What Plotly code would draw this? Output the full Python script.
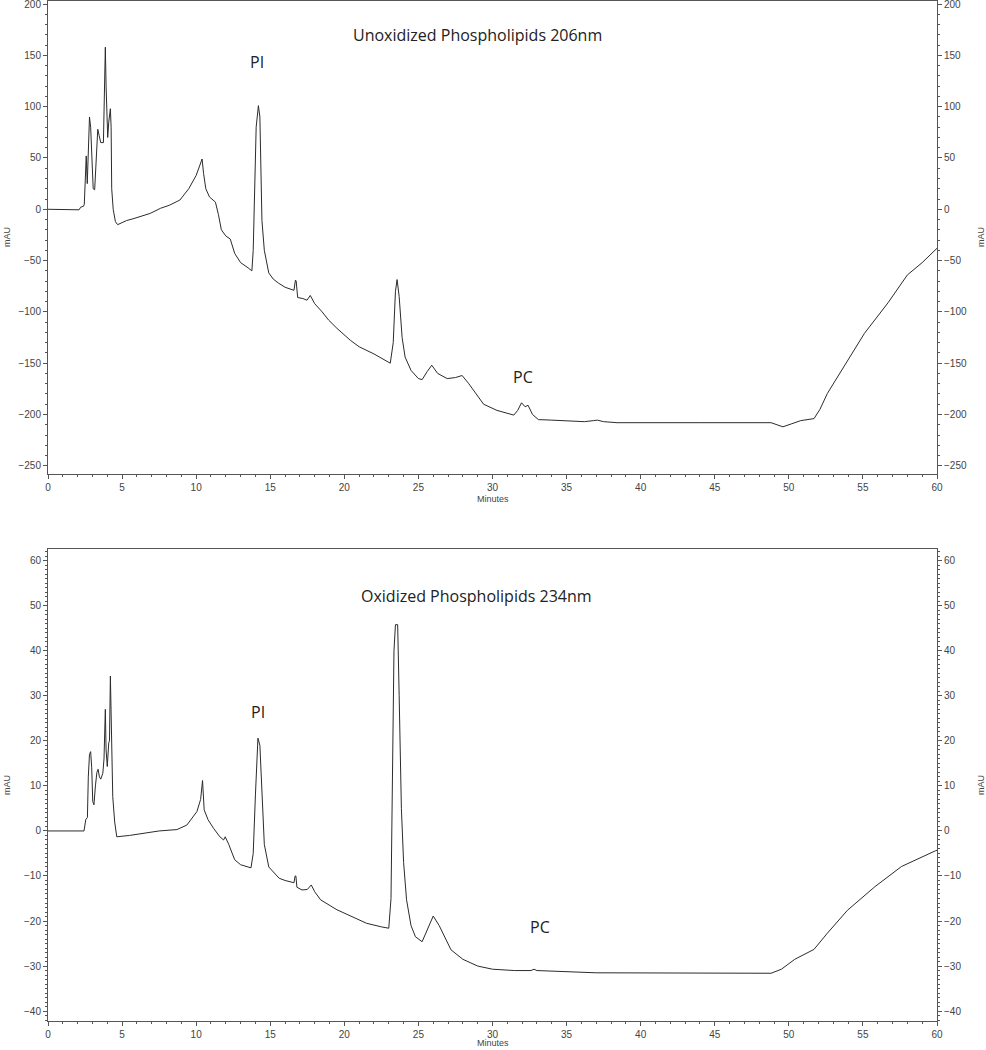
import plotly.graph_objects as go

# ---------------- data ----------------
top_minutes = [0, 1, 2.1, 2.2, 2.4, 2.45, 2.5, 2.58, 2.65, 2.72, 2.8, 2.88, 2.95, 3.05, 3.15, 3.25, 3.36,
               3.45, 3.56, 3.74, 3.8, 3.87, 3.92, 3.97, 4.03, 4.1, 4.21, 4.26, 4.3, 4.4, 4.55, 4.7, 5.3,
               5.8, 6.9, 7.6, 8.2, 8.9, 9.5, 10.0, 10.4, 10.5, 10.65, 10.9, 11.3, 11.5, 11.7, 12.0, 12.3,
               12.6, 13.0, 13.5, 13.76, 13.85, 13.95, 14.05, 14.2, 14.3, 14.44, 14.6, 14.9, 15.2, 15.56,
               16.0, 16.6, 16.7, 16.75, 16.85, 17.2, 17.48, 17.7, 18.0, 18.5, 18.94, 19.5, 20.4, 21.0,
               22.0, 23.1, 23.3, 23.45, 23.56, 23.7, 23.9, 24.1, 24.5, 25.0, 25.25, 25.6, 25.9, 26.3,
               26.94, 27.5, 27.95, 28.4, 28.85, 29.4, 30.3, 31.44, 31.7, 31.96, 32.2, 32.4, 32.7, 33.1,
               34.0, 36.2, 36.8, 37.07, 37.5, 38.4, 44, 48.8, 49.2, 49.6, 50.2, 50.8, 51.7, 52.1, 52.6,
               53.7, 55.1, 56.7, 58.0, 59.0, 60]
top_mau = [0, 0, -0.5, 2, 3, 5, 30, 52, 25, 60, 90, 80, 50, 20, 19, 55, 78,
           72, 65, 65, 100, 158, 120, 85, 70, 85, 98, 80, 20, 0, -12, -15, -11,
           -9, -4, 1, 4, 9, 20, 33, 49, 35, 20, 12, 7, -5, -20, -26, -29,
           -43, -52, -57, -60, -40, 20, 80, 101, 90, -11, -40, -62, -68, -72,
           -76, -79, -69, -70, -86, -87, -88.6, -84, -92, -100, -108, -116, -127.6, -134,
           -141, -150, -130, -80, -68.5, -85, -125, -144, -157, -165, -166, -158, -152, -160,
           -165, -164, -162, -170, -179.5, -190, -196, -200.6, -196, -188.6, -192.5, -191, -200, -205,
           -205.5, -207, -206, -205.5, -207, -208, -208, -208, -210, -212, -209, -206, -204, -195, -179.5,
           -153.5, -121, -91, -64, -52, -38]

bot_minutes = [0, 2.43, 2.55, 2.66, 2.72, 2.8, 2.88, 2.95, 3.02, 3.1, 3.2, 3.3, 3.38, 3.47, 3.56, 3.7,
               3.78, 3.87, 3.92, 4.0, 4.1, 4.15, 4.21, 4.28, 4.37, 4.5, 4.64, 5.5, 6.44, 7.5, 8.7, 9.37,
               10.05, 10.3, 10.43, 10.5, 10.54, 10.8, 11.17, 11.6, 11.85, 11.96, 12.2, 12.6, 13.0, 13.7,
               13.85, 14.0, 14.17, 14.3, 14.45, 14.6, 14.9, 15.3, 15.6, 16.0, 16.6, 16.68, 16.73, 16.8,
               17.14, 17.5, 17.77, 18.0, 18.4, 19.5, 20.5, 21.5, 22.5, 23.0, 23.15, 23.25, 23.35, 23.45,
               23.6, 23.7, 23.85, 24.0, 24.2, 24.5, 24.8, 25.25, 25.6, 26.0, 26.4, 27.2, 28.0, 29.0, 30.0,
               31.5, 32.6, 32.8, 33.0, 35, 37, 48.8, 49.5, 50.4, 51.7, 52.6, 53.96, 55.8, 57.6, 59.9, 60]
bot_mau = [0, 0, 2.5, 3, 12, 17, 17.6, 14, 6.5, 5.8, 10, 13, 13.7, 12, 11.5, 12.8,
           16, 27, 18, 14.3, 19.6, 20, 34.4, 22, 7.6, 2, -1.3, -1, -0.5, 0, 0.3, 1.3,
           4.3, 7, 11.2, 6, 4.7, 2.5, 0.6, -1.3, -2, -1.3, -3, -6.4, -7.5, -8.2,
           -5, 8, 20.6, 19, 6, -3, -8, -9.5, -10.5, -11, -11.5, -10, -10, -12.5,
           -13.1, -13, -12, -13.5, -15.3, -17.5, -19, -20.5, -21.3, -21.6, -15, 10, 40, 45.8,
           45.8, 30, 5, -7, -15.3, -21, -23.5, -24.6, -22, -18.9, -21, -26.4, -28.5, -30, -30.7,
           -31, -31, -30.7, -31, -31.3, -31.5, -31.6, -30.7, -28.5, -26.3, -22.7, -17.6, -12.4, -7.9, -4.4, -4.3]

top_title = "Unoxidized Phospholipids 206nm"
bot_title = "Oxidized Phospholipids 234nm"
x_ticks = [0, 5, 10, 15, 20, 25, 30, 35, 40, 45, 50, 55, 60]
top_y_ticks = [200, 150, 100, 50, 0, -50, -100, -150, -200, -250]
bot_y_ticks = [60, 50, 40, 30, 20, 10, 0, -10, -20, -30, -40]

# ---------------- layout helpers ----------------
W, H = 986, 1050
def px(x):
    return x / W
def py(y):
    return 1 - y / H

X_DOM = [px(48), px(937)]
TOP_DOM = [py(474), py(1)]
BOT_DOM = [py(1021), py(549)]
TOP_RANGE = [-258, 203]
BOT_RANGE = [-42.2, 62.6]

LINE = "#2b2b2b"
AXC = "#555555"
TICKF = dict(family="Liberation Sans, Arial", size=10, color="#444444")
LBLF = dict(family="Open Sans, Lato, sans-serif", size=16, color="#222222")

fig = go.Figure()
fig.add_trace(go.Scatter(x=top_minutes, y=top_mau, mode="lines", xaxis="x", yaxis="y",
                         line=dict(color=LINE, width=1), showlegend=False, hoverinfo="skip"))
fig.add_trace(go.Scatter(x=top_minutes, y=top_mau, mode="lines", xaxis="x", yaxis="y3",
                         line=dict(color="rgba(0,0,0,0)", width=0), showlegend=False, hoverinfo="skip"))
fig.add_trace(go.Scatter(x=bot_minutes, y=bot_mau, mode="lines", xaxis="x2", yaxis="y2",
                         line=dict(color=LINE, width=1), showlegend=False, hoverinfo="skip"))
fig.add_trace(go.Scatter(x=bot_minutes, y=bot_mau, mode="lines", xaxis="x2", yaxis="y4",
                         line=dict(color="rgba(0,0,0,0)", width=0), showlegend=False, hoverinfo="skip"))

def xax(anchor):
    return dict(domain=X_DOM, range=[0, 60], anchor=anchor, showline=True, linecolor=AXC, linewidth=1,
                mirror=True, ticks="outside", ticklen=4, tickcolor=AXC, tickvals=x_ticks,
                tickfont=TICKF, showgrid=False, zeroline=False, automargin=False,
                ticklabeloverflow="allow",
                minor=dict(dtick=1, ticks="outside", ticklen=2, tickcolor=AXC))

def yax(dom, rng, ticks, minor_dt, side="left", overlay=None):
    d = dict(domain=dom, range=rng, side=side, showline=True, linecolor=AXC, linewidth=1,
             ticks="outside", ticklen=4, tickcolor=AXC, tickvals=ticks, tickfont=TICKF,
             showgrid=False, zeroline=False, automargin=False, ticklabeloverflow="allow",
             minor=dict(dtick=minor_dt, ticks="outside", ticklen=2, tickcolor=AXC))
    if overlay:
        d["overlaying"] = overlay
        d["anchor"] = "x" if overlay == "y" else "x2"
    else:
        d["anchor"] = "x" if dom == TOP_DOM else "x2"
    return d

fig.update_layout(
    width=W, height=H, margin=dict(l=0, r=0, t=0, b=0),
    paper_bgcolor="white", plot_bgcolor="white",
    xaxis=xax("y"), xaxis2=xax("y2"),
    yaxis=yax(TOP_DOM, TOP_RANGE, top_y_ticks, 10),
    yaxis3=yax(TOP_DOM, TOP_RANGE, top_y_ticks, 10, side="right", overlay="y"),
    yaxis2=yax(BOT_DOM, BOT_RANGE, bot_y_ticks, 1),
    yaxis4=yax(BOT_DOM, BOT_RANGE, bot_y_ticks, 1, side="right", overlay="y2"),
)

def ann(text, x, y, font, angle=0):
    fig.add_annotation(text=text, x=px(x), y=py(y), xref="paper", yref="paper",
                       showarrow=False, font=font, textangle=angle, xanchor="center", yanchor="middle")

ann(top_title, 477, 35, LBLF)
ann("PI", 257, 62, LBLF)
ann("PC", 523, 377, LBLF)
ann(bot_title, 476, 596, LBLF)
ann("PI", 258, 712, LBLF)
ann("PC", 540, 927, LBLF)
MAUF = dict(family="Liberation Sans, Arial", size=9, color="#444")
ann("mAU", 7, 237, MAUF, -90)
ann("mAU", 981, 237, MAUF, -90)
ann("mAU", 7, 785, MAUF, -90)
ann("mAU", 981, 785, MAUF, -90)
ann("Minutes", 493, 499, MAUF)
ann("Minutes", 493, 1043, MAUF)

fig.write_html("out.html", config={"displayModeBar": False},
               post_script="document.body.style.margin='0';document.body.style.overflow='hidden';")
